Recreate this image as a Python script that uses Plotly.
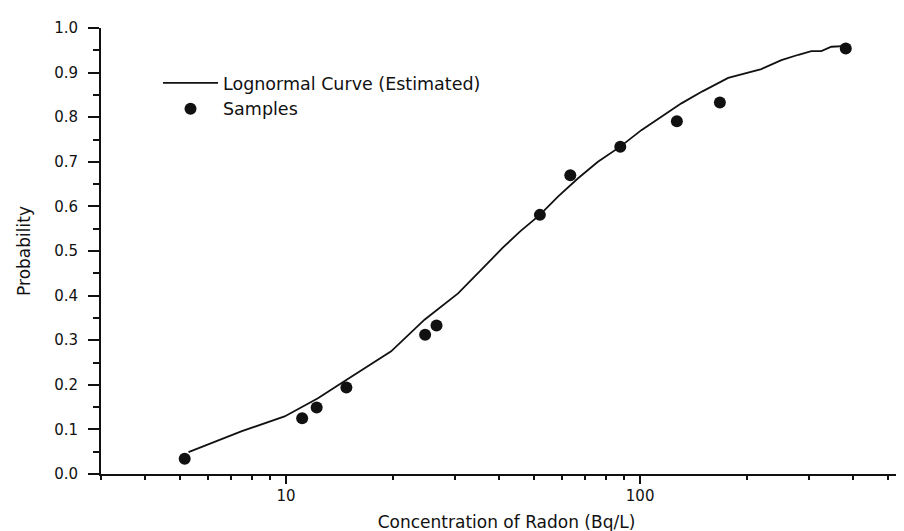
import plotly.graph_objects as go

# Sample points (Concentration of Radon in Bq/L vs cumulative probability)
sample_x = [5.17, 11.1, 12.2, 14.8, 24.7, 26.6, 52.1, 63.5, 87.9, 127, 168, 381]
sample_y = [0.034, 0.125, 0.149, 0.194, 0.312, 0.333, 0.581, 0.670, 0.734, 0.791, 0.833, 0.954]

# Estimated lognormal curve
curve_x = [5.3, 7.5, 9.9, 12.3, 14.6, 19.8, 24.6, 30.6, 35.5, 41.0, 46.0, 52.1, 58.6,
           66.8, 76.0, 87.9, 100.8, 115, 130.8, 150, 177.3, 220, 250.6, 280, 304.6,
           325, 347, 387]
curve_y = [0.049, 0.096, 0.129, 0.170, 0.208, 0.275, 0.346, 0.405, 0.457, 0.508, 0.545,
           0.581, 0.622, 0.663, 0.700, 0.734, 0.771, 0.802, 0.831, 0.858, 0.888, 0.908,
           0.928, 0.940, 0.948, 0.948, 0.958, 0.960]

x_tick_vals = [10, 100]
x_tick_text = ["10", "100"]
y_tick_vals = [0.0, 0.1, 0.2, 0.3, 0.4, 0.5, 0.6, 0.7, 0.8, 0.9, 1.0]
y_tick_text = ["0.0", "0.1", "0.2", "0.3", "0.4", "0.5", "0.6", "0.7", "0.8", "0.9", "1.0"]

FONT = "DejaVu Sans, Arial, sans-serif"
INK = "#111111"

fig = go.Figure()
fig.add_trace(go.Scatter(
    x=curve_x, y=curve_y, mode="lines",
    line=dict(color=INK, width=1.8),
    name="Lognormal Curve (Estimated)",
))
fig.add_trace(go.Scatter(
    x=sample_x, y=sample_y, mode="markers",
    marker=dict(color=INK, size=12, line=dict(width=0)),
    name="Samples", cliponaxis=False,
))

fig.update_layout(
    width=904, height=531,
    margin=dict(l=93, r=0, t=20, b=65),
    paper_bgcolor="white", plot_bgcolor="white",
    font=dict(family=FONT, size=15, color=INK),
    showlegend=True,
    legend=dict(
        x=0.0703, y=0.917, xanchor="left", yanchor="top",
        bgcolor="rgba(0,0,0,0)", borderwidth=0,
        font=dict(family=FONT, size=17.5, color=INK),
        itemwidth=55, tracegroupgap=0,
    ),
    xaxis=dict(
        type="log",
        range=[0.4771, 2.768],
        showline=True, linecolor=INK, linewidth=2,
        showgrid=False, zeroline=False,
        ticks="outside", ticklen=8, tickwidth=2, tickcolor=INK,
        tickvals=x_tick_vals, ticktext=x_tick_text,
        ticklabelstandoff=-1,
        tickfont=dict(family=FONT, size=15, color=INK),
        minor=dict(ticks="outside", ticklen=4, tickwidth=2, tickcolor=INK,
                   dtick="D1", showgrid=False),
        title=dict(text="Concentration of Radon (Bq/L)", standoff=12,
                   font=dict(family=FONT, size=17, color=INK)),
    ),
    yaxis=dict(
        range=[0, 1],
        showline=True, linecolor=INK, linewidth=2,
        showgrid=False, zeroline=False,
        ticks="outside", ticklen=11, tickwidth=2, tickcolor=INK,
        tickvals=y_tick_vals, ticktext=y_tick_text,
        ticklabelstandoff=7,
        tickfont=dict(family=FONT, size=15, color=INK),
        minor=dict(ticks="outside", ticklen=6, tickwidth=2, tickcolor=INK,
                   dtick=0.05, showgrid=False),
        title=dict(text="Probability", standoff=19,
                   font=dict(family=FONT, size=17, color=INK)),
    ),
)

fig.write_html("out.html")
